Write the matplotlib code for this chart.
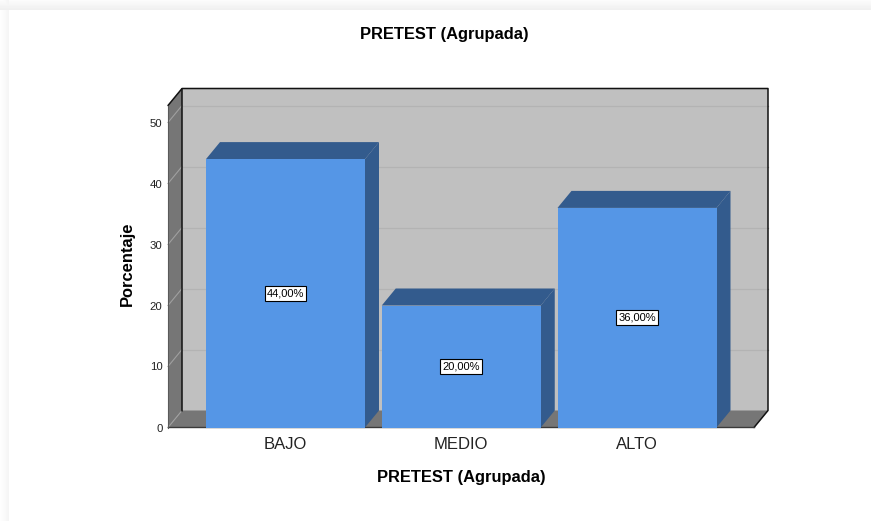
import matplotlib
matplotlib.use("Agg")
import matplotlib.pyplot as plt
import numpy as np
from matplotlib.patches import Polygon

plt.rcParams['font.family'] = ['Liberation Sans', 'DejaVu Sans']

categories = ["BAJO", "MEDIO", "ALTO"]
percentages = [44.0, 20.0, 36.0]
bar_labels = ["44,00%", "20,00%", "36,00%"]
y_ticks = [0, 10, 20, 30, 40, 50]
chart_title = "PRETEST (Agrupada)"
y_title = "Porcentaje"

W, H = 871, 521
fig = plt.figure(figsize=(W / 100, H / 100), dpi=100, facecolor="white")

# soft shadow around the white card, darkest next to its edge
bg = fig.add_axes([0, 0, 1, 1], zorder=0)
bg.set_axis_off()
xs = np.clip(np.arange(W) / 9.0, 0, 1)
ys = np.clip(np.arange(H) / 10.0, 0, 1)
gx = np.where(xs < 1, 0.995 - 0.04 * xs, 1.0)
gy = np.where(ys < 1, 0.985 - 0.05 * ys, 1.0)
shade = np.minimum(gx[None, :], gy[:, None])
bg.imshow(shade, cmap="gray", vmin=0, vmax=1, aspect="auto", interpolation="nearest")

# front plane of the 3D box, in pixels
left, right, base = 168.0, 754.0, 427.5
top_front = 105.5
dx_px, dy_px = 14.0, 17.0
ax = fig.add_axes([left / W, 1 - base / H, (right - left) / W, (base - top_front) / H], zorder=1)
ax.patch.set_alpha(0)
spacing = 175.75
x0 = 285.5
ax.set_xlim((left - x0) / spacing, (right - x0) / spacing)
unit = 6.1
ax.set_ylim(0, (base - top_front) / unit)
dx = dx_px / spacing
dy = dy_px / unit
xl, xr = ax.get_xlim()
yt = ax.get_ylim()[1]

def face(points, color, z, edge="none", lw=0):
    ax.add_patch(Polygon(points, closed=True, facecolor=color, edgecolor=edge,
                         linewidth=lw, zorder=z, clip_on=False))

wall = "#c0c0c0"
dark = "#767676"
# back wall, left wall and floor
face([(xl + dx, dy), (xr + dx, dy), (xr + dx, yt + dy), (xl + dx, yt + dy)], wall, 1)
face([(xl, 0), (xl + dx, dy), (xl + dx, yt + dy), (xl, yt)], dark, 1)
face([(xl, 0), (xr, 0), (xr + dx, dy), (xl + dx, dy)], dark, 1)

# gridlines over the back wall and across the left wall
for t in y_ticks[1:]:
    ax.plot([xl + dx, xr + dx], [t + dy, t + dy], color="#b3b3b3", lw=0.9, zorder=2, clip_on=False)
    ax.plot([xl, xl + dx], [t, t + dy], color="#a0a0a0", lw=0.8, zorder=2, clip_on=False)
ax.plot([xl, xl + dx], [0, dy], color="#a0a0a0", lw=0.8, zorder=2, clip_on=False)

# box outline
outline = dict(color="#111111", lw=1.1, zorder=3, clip_on=False, solid_capstyle="round")
ax.plot([xl, xl + dx, xr + dx, xr + dx, xr], [yt, yt + dy, yt + dy, dy, 0], **outline)
ax.plot([xl + dx, xl + dx], [dy, yt + dy], **outline)
ax.plot([xl, xr], [0.15, 0.15], color="#3a3a3a", lw=1.0, zorder=3, clip_on=False)
ax.plot([xl, xl], [0, yt], color="#5a5a5a", lw=0.8, zorder=3, clip_on=False)

# bars with their side and top faces
width = 159.0 / spacing
positions = np.arange(len(categories))
front = "#5596e6"
shadow = "#335b8d"
ax.bar(positions, percentages, width=width, color=front, edgecolor="none", zorder=5)
for p, v, lab in zip(positions, percentages, bar_labels):
    a, b = p - width / 2, p + width / 2
    face([(b, 0), (b + dx, dy), (b + dx, v + dy), (b, v)], shadow, 4)
    face([(a, v), (b, v), (b + dx, v + dy), (a + dx, v + dy)], shadow, 4)
    ax.text(p, v / 2, lab, ha="center", va="center", fontsize=8, color="black", zorder=6,
            bbox=dict(boxstyle="square,pad=0.2", facecolor="white", edgecolor="black", linewidth=0.8))

# axis text
for s in ax.spines.values():
    s.set_visible(False)
ax.set_xticks(positions, categories, fontsize=12, color="#222222")
ax.set_yticks(y_ticks, [str(t) for t in y_ticks], fontsize=8.2, color="#222222")
ax.tick_params(axis="both", length=0)
ax.tick_params(axis="y", pad=4)
ax.tick_params(axis="x", pad=7)

fig.text(444.5 / W, 1 - 34 / H, chart_title, ha="center", va="center", fontsize=11.9, fontweight="bold", color="black")
fig.text(461.5 / W, 1 - 477.5 / H, chart_title, ha="center", va="center", fontsize=11.9, fontweight="bold", color="black")
fig.text(127.5 / W, 1 - 264 / H, y_title, ha="center", va="center", rotation=90, fontsize=11.9, fontweight="bold", color="black")

fig.savefig("out.png", dpi=100, facecolor="white")
